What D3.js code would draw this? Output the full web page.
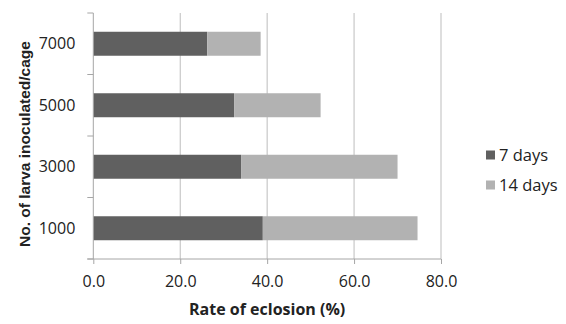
<!DOCTYPE html>
<html><head><meta charset="utf-8">
<script src="https://cdn.jsdelivr.net/npm/d3@7"></script>
<style>body{margin:0;background:#fff}svg{display:block}text{font-family:"Open Sans","Noto Sans",sans-serif;fill:#222}</style>
</head><body><svg id="c" width="566" height="324"></svg>
<script>
const categories = ["1000", "3000", "5000", "7000"];
const days7 = [39.0, 34.0, 32.4, 26.2];
const days14 = [35.6, 36.0, 19.9, 12.3];
const seriesNames = ["7 days", "14 days"];
const xTicks = [0, 20, 40, 60, 80];
const colors = ["#606060", "#b2b2b2"];

const svg = d3.select("#c");
const m = {l: 93.3, r: 441, t: 13, b: 259};
const x = d3.scaleLinear().domain([0, 80]).range([m.l, m.r]);
const y = d3.scaleBand().domain(categories.slice().reverse()).range([m.t, m.b]).paddingInner(0.61).paddingOuter(0.305);

// gridlines
svg.append("g").selectAll("line").data(xTicks.slice(1)).join("line")
  .attr("x1", d => x(d)).attr("x2", d => x(d)).attr("y1", m.t).attr("y2", m.b)
  .attr("stroke", "#bdbdbd").attr("stroke-width", 1);

const data = categories.map((c, i) => ({cat: c, "7 days": days7[i], "14 days": days14[i]}));
const stacked = d3.stack().keys(seriesNames)(data);
svg.append("g").selectAll("g").data(stacked).join("g")
  .attr("fill", (d, i) => colors[i])
  .selectAll("rect").data(d => d).join("rect")
  .attr("x", d => x(d[0])).attr("width", d => x(d[1]) - x(d[0]))
  .attr("y", d => y(d.data.cat)).attr("height", y.bandwidth());

// x axis
const xa = svg.append("g").attr("transform", `translate(0,${m.b})`)
  .call(d3.axisBottom(x).tickValues(xTicks).tickFormat(d3.format(".1f")).tickSize(5).tickPadding(12));
xa.select(".domain").remove();
xa.append("line").attr("x1", m.l - 6).attr("x2", m.r).attr("stroke", "#a6a6a6");
xa.selectAll(".tick line").attr("stroke", "#a6a6a6");
xa.selectAll("text").attr("font-size", 16).attr("fill", "#222");

// y axis
const bandStep = (m.b - m.t) / categories.length;
const ya = svg.append("g").attr("transform", `translate(${m.l},0)`);
ya.append("line").attr("y1", m.t).attr("y2", m.b).attr("stroke", "#a6a6a6");
ya.selectAll(".tk").data(d3.range(categories.length + 1)).join("line")
  .attr("x1", -6).attr("x2", 0).attr("y1", i => m.t + i * bandStep).attr("y2", i => m.t + i * bandStep)
  .attr("stroke", "#a6a6a6");
ya.selectAll("text").data(categories).join("text")
  .attr("x", -18).attr("y", d => y(d) + y.bandwidth() / 2).attr("dy", "0.35em")
  .attr("text-anchor", "end").attr("font-size", 16).text(d => d);

// titles
svg.append("text").attr("x", (m.l + m.r) / 2).attr("y", 315).attr("text-anchor", "middle")
  .attr("font-size", 16).attr("font-weight", "bold").text("Rate of eclosion (%)");
svg.append("text").attr("transform", `translate(30,144) rotate(-90)`)
  .attr("text-anchor", "middle").attr("font-size", 15.5).attr("font-weight", "bold")
  .style("font-family", "'Liberation Sans', Arial, sans-serif")
  .text("No. of larva inoculated/cage");

// legend
const lg = svg.append("g").selectAll("g").data(seriesNames).join("g")
  .attr("transform", (d, i) => `translate(486,${155 + i * 30})`);
lg.append("rect").attr("x", 0).attr("y", -4.5).attr("width", 9).attr("height", 9).attr("fill", (d, i) => colors[i]);
lg.append("text").attr("x", 13).attr("dy", "0.35em").attr("font-size", 16.5).text(d => d);
</script></body></html>
